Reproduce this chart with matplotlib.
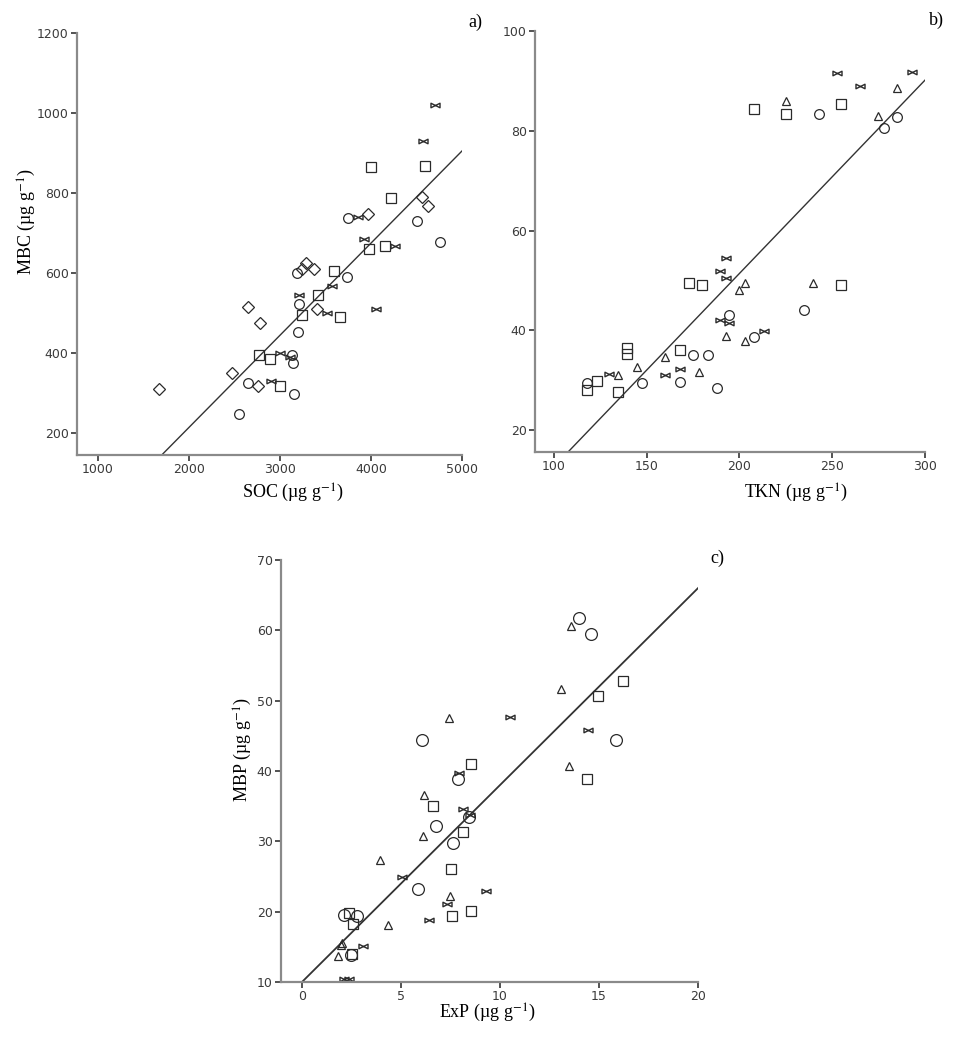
import numpy as np
import matplotlib
matplotlib.use("Agg")
import matplotlib.pyplot as plt
from matplotlib.path import Path

plt.rcParams['mathtext.fontset'] = 'stix'

# ---- panel a: SOC vs MBC ----
a_circle_x = [3743, 4503, 4755, 3740, 3184, 3206, 3199, 3133, 3148, 2644, 3159, 2553]
a_circle_y = [738, 729, 677, 589, 599, 523, 453, 395, 376, 326, 298, 248]
a_square_x = [4003, 4598, 4215, 3981, 4153, 3594, 3422, 3247, 3663, 2772, 2892, 3002]
a_square_y = [864, 868, 787, 660, 667, 604, 544, 494, 490, 395, 385, 317]
a_diamond_x = [4562, 4627, 3970, 3287, 3239, 3378, 3411, 2644, 2786, 2472, 2757, 1676]
a_diamond_y = [791, 768, 747, 626, 609, 611, 509, 514, 476, 351, 318, 311]
a_bow_x = [4700, 4573, 3853, 3922, 4262, 3568, 3206, 3513, 4050, 3002, 3111, 2900]
a_bow_y = [1021, 931, 740, 685, 668, 568, 544, 501, 511, 400, 390, 331]
a_fit = (0.2304, -246.9)

# ---- panel b: TKN vs MBN ----
b_circle_x = [242.9, 284.7, 277.8, 234.8, 194.6, 207.7, 174.8, 182.9, 147.7, 167.9, 187.9, 118.0]
b_circle_y = [83.4, 82.8, 80.6, 44.0, 43.1, 38.7, 35.1, 35.0, 29.4, 29.6, 28.5, 29.5]
b_square_x = [207.7, 224.9, 254.8, 173.0, 179.8, 254.8, 139.6, 139.6, 167.9, 118.0, 123.1, 134.8]
b_square_y = [84.4, 83.4, 85.3, 49.5, 49.0, 49.0, 36.4, 35.2, 36.0, 28.0, 29.8, 27.7]
b_tri_x = [284.9, 224.9, 274.8, 202.9, 239.8, 199.6, 192.8, 202.9, 159.8, 144.9, 134.8, 178.0]
b_tri_y = [88.6, 86.0, 82.9, 49.5, 49.5, 48.0, 38.9, 37.8, 34.6, 32.6, 31.0, 31.6]
b_bow_x = [252.8, 293.0, 264.9, 192.8, 189.7, 192.8, 189.7, 194.6, 213.0, 167.9, 160.0, 129.9]
b_bow_y = [91.6, 91.8, 88.9, 54.5, 51.9, 50.4, 42.1, 41.5, 39.9, 32.2, 31.0, 31.3]
b_fit = (0.3875, -26.1)

# ---- panel c: ExP vs MBP ----
c_circle_x = [13.97, 14.59, 15.84, 6.07, 7.87, 8.42, 6.79, 7.62, 5.88, 2.11, 2.76, 2.48]
c_circle_y = [61.7, 59.45, 44.44, 44.35, 38.93, 33.42, 32.23, 29.81, 23.16, 19.55, 19.36, 13.80]
c_square_x = [16.23, 14.93, 8.53, 14.41, 6.60, 8.12, 7.51, 8.53, 7.58, 2.36, 2.58, 2.51]
c_square_y = [52.85, 50.62, 40.93, 38.88, 35.03, 31.33, 26.06, 20.07, 19.36, 19.78, 18.22, 14.04]
c_tri_x = [13.60, 13.09, 7.40, 13.48, 6.15, 6.13, 3.94, 7.50, 4.35, 1.95, 1.82, 2.00]
c_tri_y = [60.55, 51.61, 47.58, 40.74, 36.56, 30.76, 27.39, 22.21, 18.12, 15.27, 13.70, 15.50]
c_bow_x = [10.50, 14.42, 7.92, 8.14, 8.49, 5.05, 9.28, 7.33, 6.42, 3.08, 2.11, 2.35]
c_bow_y = [47.72, 45.87, 39.74, 34.66, 33.75, 24.87, 22.97, 21.02, 18.79, 15.18, 10.48, 10.48]
c_fit = (2.8, 10.0)

# bowtie marker
bowtie = Path([(-1, -0.5), (-1, 0.5), (1, -0.5), (1, 0.5), (-1, -0.5)],
              [Path.MOVETO, Path.LINETO, Path.LINETO, Path.LINETO, Path.CLOSEPOLY])

EDGE = '#2a2a2a'
SPINE = '#8a8a8a'


def style_axes(ax, xlim, ylim, xticks, yticks):
    ax.set_xlim(*xlim)
    ax.set_ylim(*ylim)
    ax.set_xticks(xticks)
    ax.set_yticks(yticks)
    for s in ['top', 'right']:
        ax.spines[s].set_visible(False)
    for s in ['left', 'bottom']:
        ax.spines[s].set_color(SPINE)
        ax.spines[s].set_linewidth(1.6)
    ax.tick_params(direction='out', length=4, width=1.3, color='#444444',
                   labelsize=9, labelcolor='#3a3a3a', pad=2)


def pts(ax, x, y, marker, ms, mew=0.9):
    ax.plot(x, y, linestyle='none', marker=marker, markersize=ms,
            markerfacecolor='none', markeredgecolor=EDGE, markeredgewidth=mew)


def fit_line(ax, fit, x0, x1, lw=1.0):
    xs = np.array([x0, x1])
    ax.plot(xs, fit[0] * xs + fit[1], color='#333333', linewidth=lw)


fig = plt.figure(figsize=(9.78, 10.42), dpi=100)
W, H = 978.0, 1042.0

serif = 'Liberation Serif'

# panel a
ax1 = fig.add_axes([77 / W, 1 - 455 / H, 385 / W, 422 / H])
style_axes(ax1, (770, 5000), (145, 1200), [1000, 2000, 3000, 4000, 5000],
           [200, 400, 600, 800, 1000, 1200])
fit_line(ax1, a_fit, (145 - a_fit[1]) / a_fit[0], 5000)
pts(ax1, a_circle_x, a_circle_y, 'o', 7)
pts(ax1, a_square_x, a_square_y, 's', 7)
pts(ax1, a_diamond_x, a_diamond_y, 'D', 6)
pts(ax1, a_bow_x, a_bow_y, bowtie, 6.5, 1.0)
ax1.text(0.56, -0.09, 'SOC (µg g$^{-1}$)', transform=ax1.transAxes,
         ha='center', va='center', fontsize=13, family=serif)
ax1.text(-0.13, 0.552, 'MBC (µg g$^{-1}$)', transform=ax1.transAxes, rotation=90,
         ha='center', va='center', fontsize=13, family=serif)

# panel b
ax2 = fig.add_axes([535 / W, 1 - 452 / H, 390 / W, 421 / H])
style_axes(ax2, (89.8, 300), (15.6, 100), [100, 150, 200, 250, 300],
           [20, 40, 60, 80, 100])
fit_line(ax2, b_fit, (15.6 - b_fit[1]) / b_fit[0], 300)
pts(ax2, b_circle_x, b_circle_y, 'o', 7)
pts(ax2, b_square_x, b_square_y, 's', 7)
pts(ax2, b_tri_x, b_tri_y, '^', 5.5)
pts(ax2, b_bow_x, b_bow_y, bowtie, 6.5, 1.0)
ax2.text(0.67, -0.097, 'TKN (µg g$^{-1}$)', transform=ax2.transAxes,
         ha='center', va='center', fontsize=13, family=serif)

# panel c
ax3 = fig.add_axes([281 / W, 1 - 982 / H, 417 / W, 422 / H])
style_axes(ax3, (-1.06, 20), (10, 70), [0, 5, 10, 15, 20],
           [10, 20, 30, 40, 50, 60, 70])
fit_line(ax3, c_fit, 0, 20, lw=1.3)
pts(ax3, c_circle_x, c_circle_y, 'o', 8.5)
pts(ax3, c_square_x, c_square_y, 's', 7.5)
pts(ax3, c_tri_x, c_tri_y, '^', 5.5)
pts(ax3, c_bow_x, c_bow_y, bowtie, 6.5, 1.0)
ax3.text(0.494, -0.073, 'ExP (µg g$^{-1}$)', transform=ax3.transAxes,
         ha='center', va='center', fontsize=13, family=serif)
ax3.text(-0.091, 0.55, 'MBP (µg g$^{-1}$)', transform=ax3.transAxes, rotation=90,
         ha='center', va='center', fontsize=13, family=serif)

# panel letters
fig.text(475 / W, 1 - 22 / H, 'a)', ha='center', va='center', fontsize=13, family=serif)
fig.text(936 / W, 1 - 20 / H, 'b)', ha='center', va='center', fontsize=13, family=serif)
fig.text(717 / W, 1 - 558 / H, 'c)', ha='center', va='center', fontsize=13, family=serif)

fig.savefig('out.png', dpi=100, facecolor='white')
